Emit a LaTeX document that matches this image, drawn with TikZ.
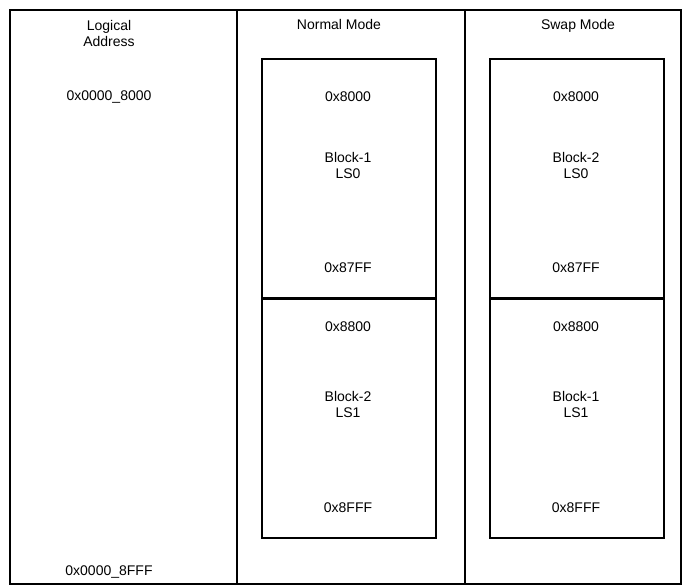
\documentclass[tikz,border=0pt]{standalone}
\usepackage{fontspec}
\setmainfont{Liberation Sans}
\begin{document}
\begin{tikzpicture}[x=1pt,y=-1pt,
  frame/.style={line width=1.7pt},
  blk/.style={draw,line width=1.8pt,minimum width=174pt,minimum height=239pt,inner sep=0pt,anchor=north west},
  lbl/.style={font=\fontsize{14}{16}\selectfont,align=center,inner sep=0pt}]
\useasboundingbox (0,0) rectangle (682,586);
% outer frame and column dividers
\draw[frame] (10,10) rectangle (681,584);
\draw[frame] (237,10) -- (237,584);
\draw[frame] (465,10) -- (465,584);
% blocks
\node[blk] (n1) at (261,58) {};
\node[blk] (n2) at (261,298) {};
\node[blk] (s1) at (489,58) {};
\node[blk] (s2) at (489,298) {};
% column 1
\node[lbl] (la) at (109,33) {Logical\\Address};
\node[lbl] (a0) at (109,97) {0x0000\_8000};
\node[lbl] (a1) at (109,572) {0x0000\_8FFF};
% headers
\node[lbl,anchor=base] (hn) at (339,30) {Normal Mode};
\node[lbl,anchor=base] (hs) at (578,30) {Swap Mode};
% normal mode
\node[lbl] (n1a) at (348,97) {0x8000};
\node[lbl] (n1b) at (348,165) {Block-1\\LS0};
\node[lbl] (n1c) at (348,268) {0x87FF};
\node[lbl] (n2a) at (348,327) {0x8800};
\node[lbl] (n2b) at (348,404) {Block-2\\LS1};
\node[lbl] (n2c) at (348,508) {0x8FFF};
% swap mode
\node[lbl] (s1a) at (576,97) {0x8000};
\node[lbl] (s1b) at (576,165) {Block-2\\LS0};
\node[lbl] (s1c) at (576,268) {0x87FF};
\node[lbl] (s2a) at (576,327) {0x8800};
\node[lbl] (s2b) at (576,404) {Block-1\\LS1};
\node[lbl] (s2c) at (576,508) {0x8FFF};
\end{tikzpicture}
\end{document}
